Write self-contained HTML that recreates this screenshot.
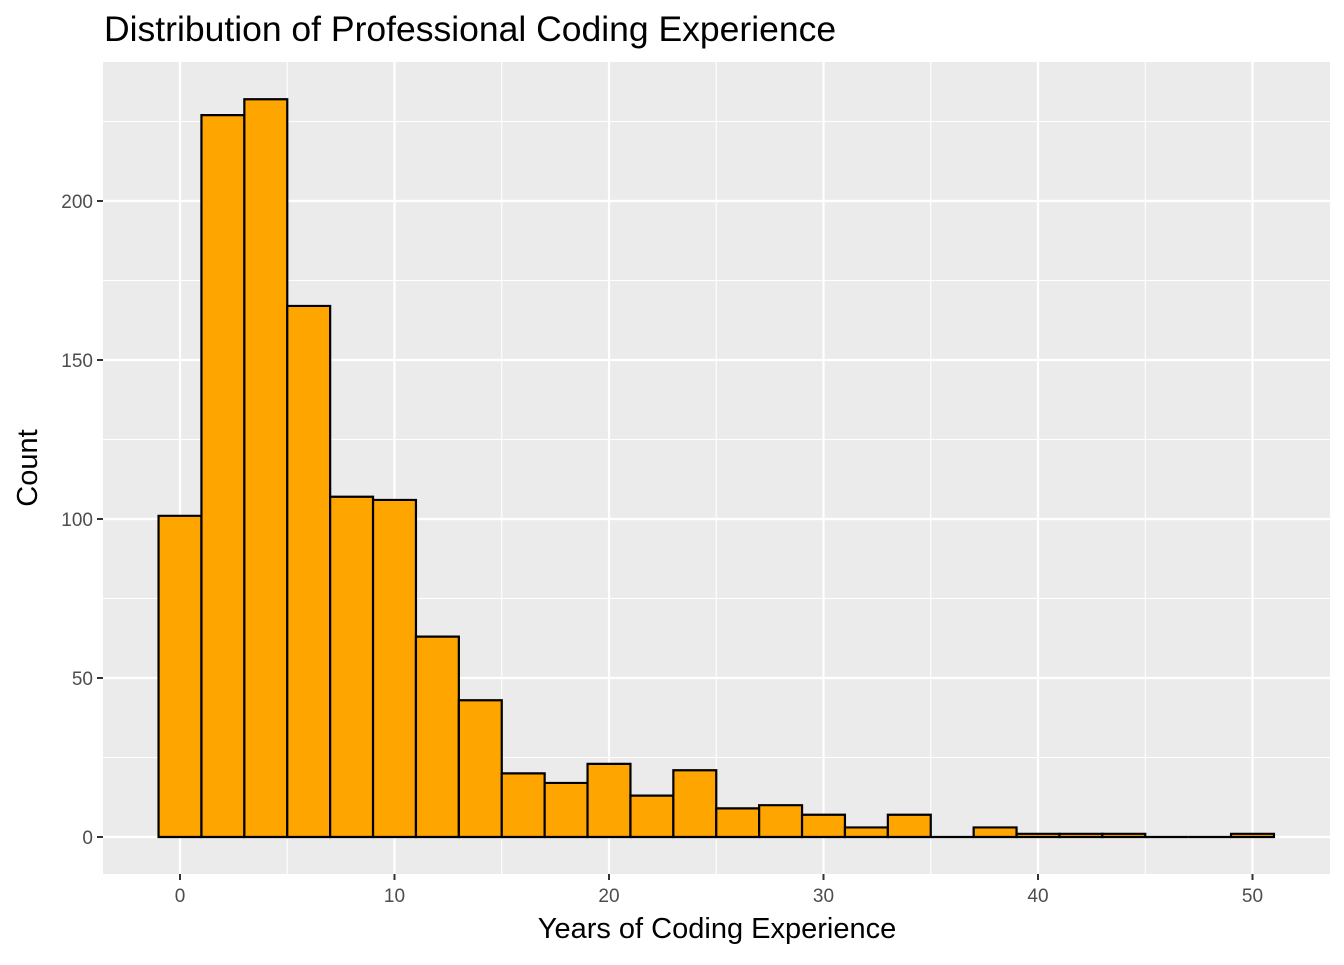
<!DOCTYPE html>
<html><head><meta charset="utf-8"><style>
html,body{margin:0;padding:0;background:#fff;}
svg text{font-family:"Liberation Sans",sans-serif;}
</style></head><body>
<svg width="1344" height="960" xmlns="http://www.w3.org/2000/svg">
<rect width="1344" height="960" fill="#fff"/>
<text x="104" y="41" font-size="35.5" fill="#000">Distribution of Professional Coding Experience</text>
<rect x="103" y="62" width="1227" height="812" fill="#EBEBEB"/>
<g id="g"></g>
<text x="717" y="938" font-size="29" text-anchor="middle" fill="#000">Years of Coding Experience</text>
<text transform="translate(37,468) rotate(-90)" font-size="29" text-anchor="middle" fill="#000">Count</text>
</svg>
<script>
const g=document.getElementById('g');
const X=v=>180+v*21.45, Y=c=>837-c*3.18;
let s='';
const L=103,R=1330,T=62,B=874;
for(let v=-5;v<=55;v+=10){const x=X(v);if(x>L&&x<R)s+=`<line x1="${x}" x2="${x}" y1="${T}" y2="${B}" stroke="#fff" stroke-width="1.1"/>`;}
for(let c=25;c<=225;c+=50){const y=Y(c);s+=`<line x1="${L}" x2="${R}" y1="${y}" y2="${y}" stroke="#fff" stroke-width="1.1"/>`;}
for(let v=0;v<=50;v+=10){const x=X(v);s+=`<line x1="${x}" x2="${x}" y1="${T}" y2="${B}" stroke="#fff" stroke-width="2.2"/>`;
s+=`<line x1="${x}" x2="${x}" y1="${B}" y2="${B+6}" stroke="#333" stroke-width="2"/><text x="${x}" y="${B+28}" font-size="19" fill="#4D4D4D" text-anchor="middle">${v}</text>`;}
for(let c=0;c<=200;c+=50){const y=Y(c);s+=`<line x1="${L}" x2="${R}" y1="${y}" y2="${y}" stroke="#fff" stroke-width="2.2"/>`;
s+=`<line x1="${L-6}" x2="${L}" y1="${y}" y2="${y}" stroke="#333" stroke-width="2"/><text x="${L-10}" y="${y+7}" font-size="19" fill="#4D4D4D" text-anchor="end">${c}</text>`;}
const counts=[101,227,232,167,107,106,63,43,20,17,23,13,21,9,10,7,3,7,0,3,1,1,1,0,0,1];
counts.forEach((c,i)=>{const x0=X(-1+2*i),x1=X(1+2*i),y=Y(c),yb=Y(0);
s+=`<path d="M${x0},${yb}L${x0},${y}L${x1},${y}L${x1},${yb}Z" fill="#FFA500" stroke="#000" stroke-width="2.2"/>`;});
g.innerHTML=s;
</script>
</body></html>
